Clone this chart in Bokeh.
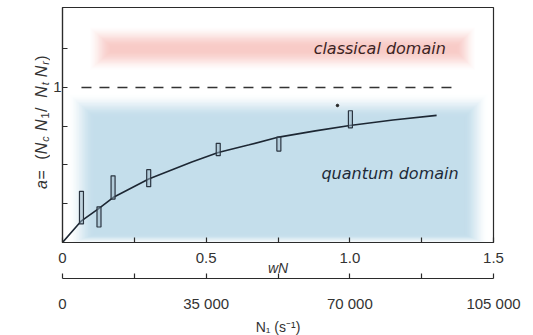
import numpy as np
from bokeh.plotting import figure
from bokeh.layouts import row
from bokeh.models import Range1d, LinearAxis, FixedTicker
from bokeh.core.properties import value
from bokeh.embed import file_html
from bokeh.resources import INLINE

# ---------------- data ----------------
curve_x = [0.0, 0.066, 0.127, 0.176, 0.30, 0.45, 0.542, 0.65, 0.753, 0.88, 1.0, 1.15, 1.302]
curve_y = [0.0, 0.14, 0.22, 0.29, 0.41, 0.52, 0.58, 0.63, 0.68, 0.72, 0.755, 0.79, 0.82]

box_x = [0.066, 0.127, 0.176, 0.300, 0.542, 0.753, 1.002]
box_lo = [0.12, 0.10, 0.28, 0.36, 0.56, 0.59, 0.74]
box_hi = [0.33, 0.23, 0.43, 0.47, 0.64, 0.68, 0.85]

dot_x = [0.957]
dot_y = [0.884]

limit_x = [0.066, 1.38]
limit_y = [1.0, 1.0]

wn_ticks = [0.0, 0.25, 0.5, 0.75, 1.0, 1.25, 1.5]
wn_labels = ["0", "", "0.5", "", "1.0", "", "1.5"]
n1_ticks = [0, 17500, 35000, 52500, 70000, 87500, 105000]
n1_labels = ["0", "", "35 000", "", "70 000", "", "105 000"]
a_ticks = [0.25, 0.5, 0.75, 1.0, 1.25]
a_labels = ["", "", "", "1", ""]

region_text = ["classical domain", "quantum domain"]

# ---------------- layout constants ----------------
TOTAL_W, TOTAL_H = 533, 335
LEFT_W = 50
FW, FH = 431, 235
TOP = 7
YMAX = 1.516
FONT = "Liberation Sans"

# ---------------- main figure ----------------
p = figure(frame_width=FW, frame_height=FH, x_range=Range1d(0, 1.5), y_range=Range1d(0, YMAX),
           output_backend="svg", toolbar_location=None,
           min_border_left=61 - LEFT_W, min_border_right=TOTAL_W - 61 - FW,
           min_border_top=TOP, min_border_bottom=TOTAL_H - TOP - FH)
p.xgrid.visible = False
p.ygrid.visible = False
p.background_fill_color = "white"
p.border_fill_color = "white"
p.outline_line_color = "#2b2b2b"
p.outline_line_width = 1.2

def mix(c, t):
    r, g, b = int(c[1:3], 16), int(c[3:5], 16), int(c[5:7], 16)
    return "#%02x%02x%02x" % (round(255 + (r - 255) * t), round(255 + (g - 255) * t), round(255 + (b - 255) * t))

def soft_box(x0, x1, y0, y1, fl, fr, fb, ft, color, n=18):
    for i in range(n):
        s = i / (n - 1)
        t = (i + 1) / n
        t = t * t * (3 - 2 * t)
        p.quad(left=x0 - fl * (1 - s), right=x1 + fr * (1 - s),
               bottom=y0 - fb * (1 - s), top=y1 + ft * (1 - s),
               fill_color=mix(color, t), line_color=None)

# blue quantum region and pink classical band
soft_box(0.11, 1.40, 0.05, 0.81, 0.09, 0.08, 0.06, 0.15, "#c4deeb")
soft_box(0.17, 1.37, 1.235, 1.265, 0.08, 0.07, 0.13, 0.13, "#f8cbc7")

# dashed limit
p.line(limit_x, limit_y, line_color="#333333", line_width=1.6, line_dash="10 8")

# curve
p.line(curve_x, curve_y, line_color="#1d2733", line_width=1.6)

# boxes (measurement ranges)
yc = [(a + b) / 2 for a, b in zip(box_lo, box_hi)]
hh = [b - a for a, b in zip(box_lo, box_hi)]
p.rect(x=box_x, y=yc, width=4, height=hh, width_units="screen",
       fill_color="#9fb8c8", fill_alpha=0.5, line_color="#2a3440", line_width=1.2)

p.scatter(dot_x, dot_y, size=2.5, color="#222222")

# region texts
p.text(x=[0.874], y=[1.25], text=[region_text[0]], text_font=value("DejaVu Sans"),
       text_font_style="italic", text_font_size="16px", text_color="#3b2424",
       text_baseline="middle", text_align="left")
p.text(x=[0.901], y=[0.445], text=[region_text[1]], text_font=value("DejaVu Sans"),
       text_font_style="italic", text_font_size="16px", text_color="#1e2a38",
       text_baseline="middle", text_align="left")

# axes
def style_axis(ax):
    ax.major_tick_in = 5
    ax.major_tick_out = 0
    ax.minor_tick_in = 0
    ax.minor_tick_out = 0
    ax.axis_line_color = "#2b2b2b"
    ax.axis_line_width = 1.2
    ax.major_tick_line_color = "#2b2b2b"
    ax.major_tick_line_width = 1.2
    ax.major_label_text_font = FONT
    ax.major_label_text_font_size = "15px"
    ax.major_label_text_color = "#333333"
    ax.axis_label_text_font = FONT
    ax.axis_label_text_font_size = "14px"
    ax.axis_label_text_color = "#333333"

xa = p.xaxis[0]
style_axis(xa)
xa.ticker = FixedTicker(ticks=wn_ticks)
xa.major_label_overrides = {t: l for t, l in zip(wn_ticks, wn_labels)}
xa.major_label_standoff = 10
xa.axis_label = "wN"
xa.axis_label_text_font_style = "italic"
xa.axis_label_standoff = -6
xa.axis_label_text_line_height = 2.4

p.extra_x_ranges = {"n1": Range1d(0, 105000)}
xb = LinearAxis(x_range_name="n1")
style_axis(xb)
xb.ticker = FixedTicker(ticks=n1_ticks)
xb.major_label_overrides = {t: l for t, l in zip(n1_ticks, n1_labels)}
xb.major_label_standoff = 16
xb.axis_label = "N₁ (s⁻¹)"
xb.axis_label_text_font_style = "normal"
xb.axis_label_standoff = 4
p.add_layout(xb, "below")

ya = p.yaxis[0]
style_axis(ya)
ya.ticker = FixedTicker(ticks=a_ticks)
ya.major_label_overrides = {t: l for t, l in zip(a_ticks, a_labels)}
ya.major_label_standoff = 1

# ---------------- left strip with the rotated y-axis title ----------------
# (its frame is aligned with the main frame by the row layout, so it shares the y range)
left = figure(width=LEFT_W, height=TOTAL_H, x_range=Range1d(0, LEFT_W), y_range=p.y_range,
              output_backend="svg", toolbar_location=None, min_border=0)
left.axis.visible = False
left.grid.visible = False
left.outline_line_color = None
left.background_fill_color = "white"
left.border_fill_color = "white"

W = {"a": 556, " ": 278, "=": 584, "(": 333, ")": 333, "N": 722, "/": 278,
     "c": 500, "1": 556, "t": 278, "r": 333}
pieces = [("a", 0), (" = ", 0), ("(", 0), ("N", 0), ("c", 1), (" ", 0), ("N", 0), ("1", 1),
          (" / ", 0), ("N", 0), ("t", 1), (" ", 0), ("N", 0), ("r", 1), (")", 0)]
MAIN, SUB = 16, 11
widths = [sum(W[ch] for ch in txt) * (SUB if sub else MAIN) / 1000.0 for txt, sub in pieces]
PX_PER_UNIT = FH / YMAX
Y_START, Y_END = 0.335, 1.206        # title runs along the axis between these values
stretch = (Y_END - Y_START) * PX_PER_UNIT / sum(widths)
BASE_X = 41
pos = 0.0
for (txt, sub), w in zip(pieces, widths):
    size = SUB if sub else MAIN
    t = txt.strip()
    if t:
        left.text(x=[BASE_X + (3 if sub else 0)], y=[Y_START + pos / PX_PER_UNIT], text=[t],
                  angle=np.pi / 2, text_font=value(FONT), text_font_size=f"{size}px",
                  text_font_style="italic" if t in ("a", "N", "c", "t", "r") else "normal",
                  text_color="#333333", text_baseline="alphabetic", text_align="left")
    pos += w * stretch

open("out.html", "w").write(file_html(row(left, p), INLINE))
